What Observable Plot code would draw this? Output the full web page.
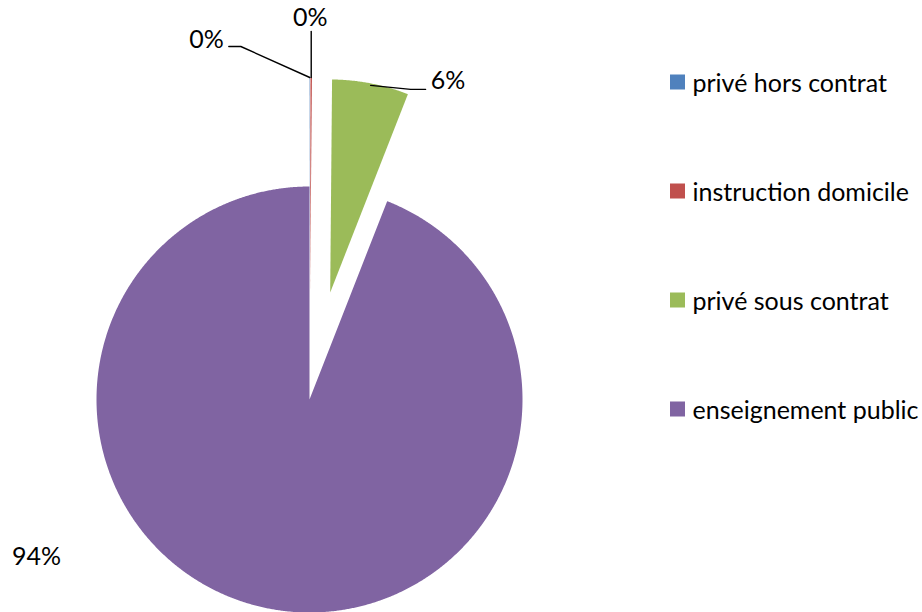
<!DOCTYPE html>
<html>
<head>
<meta charset="utf-8">
<script src="https://cdn.jsdelivr.net/npm/d3@7"></script>
<script src="https://cdn.jsdelivr.net/npm/@observablehq/plot@0.6"></script>
<style>
  html, body { margin: 0; padding: 0; background: #fff; }
  #chart svg { display: block; }
</style>
</head>
<body>
<div id="chart"></div>
<script>
// ---- data ----
const categories = ["privé hors contrat", "instruction domicile", "privé sous contrat", "enseignement public"];
const shares = [0.03, 0.11, 5.8, 94.06];   // percent of pupils
const colors = ["#4F81BD", "#C0504D", "#9BBB59", "#8064A2"];

// ---- layout constants ----
const W = 922, H = 612;
const cx = 309, cy = 399, R = 213;
const explode = [109, 109, 109, 0];          // px offset of each slice along its bisector
const FONT = "Lato, 'Liberation Sans', sans-serif";

const rows = categories.map((c, i) => ({cat: c, share: shares[i], idx: i}));
const arcs = d3.pie().sort(null).value(d => d.share)(rows);

// polygon vertices for every slice (derived from the pie angles)
const slicePts = [];
const anchors = [];
arcs.forEach(a => {
  const i = a.data.idx;
  const mid = (a.startAngle + a.endAngle) / 2;
  const ox = cx + explode[i] * Math.sin(mid);
  const oy = cy - explode[i] * Math.cos(mid);
  const n = Math.max(2, Math.ceil((a.endAngle - a.startAngle) / 0.005));
  slicePts.push({cat: a.data.cat, order: i, x: ox, y: oy});
  for (let k = 0; k <= n; k++) {
    const t = a.startAngle + (a.endAngle - a.startAngle) * k / n;
    slicePts.push({cat: a.data.cat, order: i, x: ox + R * Math.sin(t), y: oy - R * Math.cos(t)});
  }
  slicePts.push({cat: a.data.cat, order: i, x: ox, y: oy});
  anchors.push({cat: a.data.cat, idx: i, share: a.data.share,
    x: ox + R * Math.sin(mid), y: oy - R * Math.cos(mid)});
});

// leader lines and label placement relative to the slice anchors
const leaderOffsets = [
  [[0, 0], [-69, -31], [-81, -31]],
  [[0, 0], [0, -46]],
  [[0, 2], [40, 6], [55, 6]],
  null
];
const labelOffsets = [
  {dx: -86, dy: -38, anchor: "end"},
  {dx: -1, dy: -60, anchor: "middle"},
  {dx: 60, dy: -2, anchor: "start"},
  null
];
const leaders = [];
anchors.forEach(a => {
  const off = leaderOffsets[a.idx];
  if (!off) return;
  off.forEach(([dx, dy]) => leaders.push({id: a.idx, x: a.x + dx, y: a.y + dy}));
});
const labels = anchors.map(a => {
  const lo = labelOffsets[a.idx];
  const txt = Math.round(a.share) + "%";
  if (lo) return {text: txt, x: a.x + lo.dx, y: a.y + lo.dy, anchor: lo.anchor};
  // main slice: label placed to the lower left of the pie
  return {text: txt, x: cx - 273, y: cy + 157, anchor: "middle"};
});

const legendRows = categories.map((c, i) => ({cat: c, y: 82 + i * 109}));

const labelMark = anchor => Plot.text(labels.filter(d => d.anchor === anchor),
  {x: "x", y: "y", text: "text", textAnchor: anchor, fontSize: 25, fill: "black", fontFamily: FONT});

const chart = Plot.plot({
  width: W,
  height: H,
  margin: 0,
  x: {domain: [0, W], range: [0, W], axis: null},
  y: {domain: [0, H], range: [0, H], axis: null},
  color: {domain: categories, range: colors},
  style: {fontFamily: FONT, background: "white"},
  marks: [
    Plot.line(slicePts, {x: "x", y: "y", z: "cat", fill: "cat", stroke: "none", curve: "linear"}),
    Plot.line(leaders, {x: "x", y: "y", z: "id", stroke: "black", strokeWidth: 1.4}),
    labelMark("start"),
    labelMark("middle"),
    labelMark("end"),
    Plot.rect(legendRows, {x1: () => 670, x2: () => 685, y1: d => d.y - 7.5, y2: d => d.y + 7.5, fill: "cat"}),
    Plot.text(legendRows, {x: () => 692, y: d => d.y + 1, text: "cat", textAnchor: "start", fontSize: 25, fill: "black", fontFamily: FONT})
  ]
});
document.getElementById("chart").appendChild(chart);
</script>
</body>
</html>
